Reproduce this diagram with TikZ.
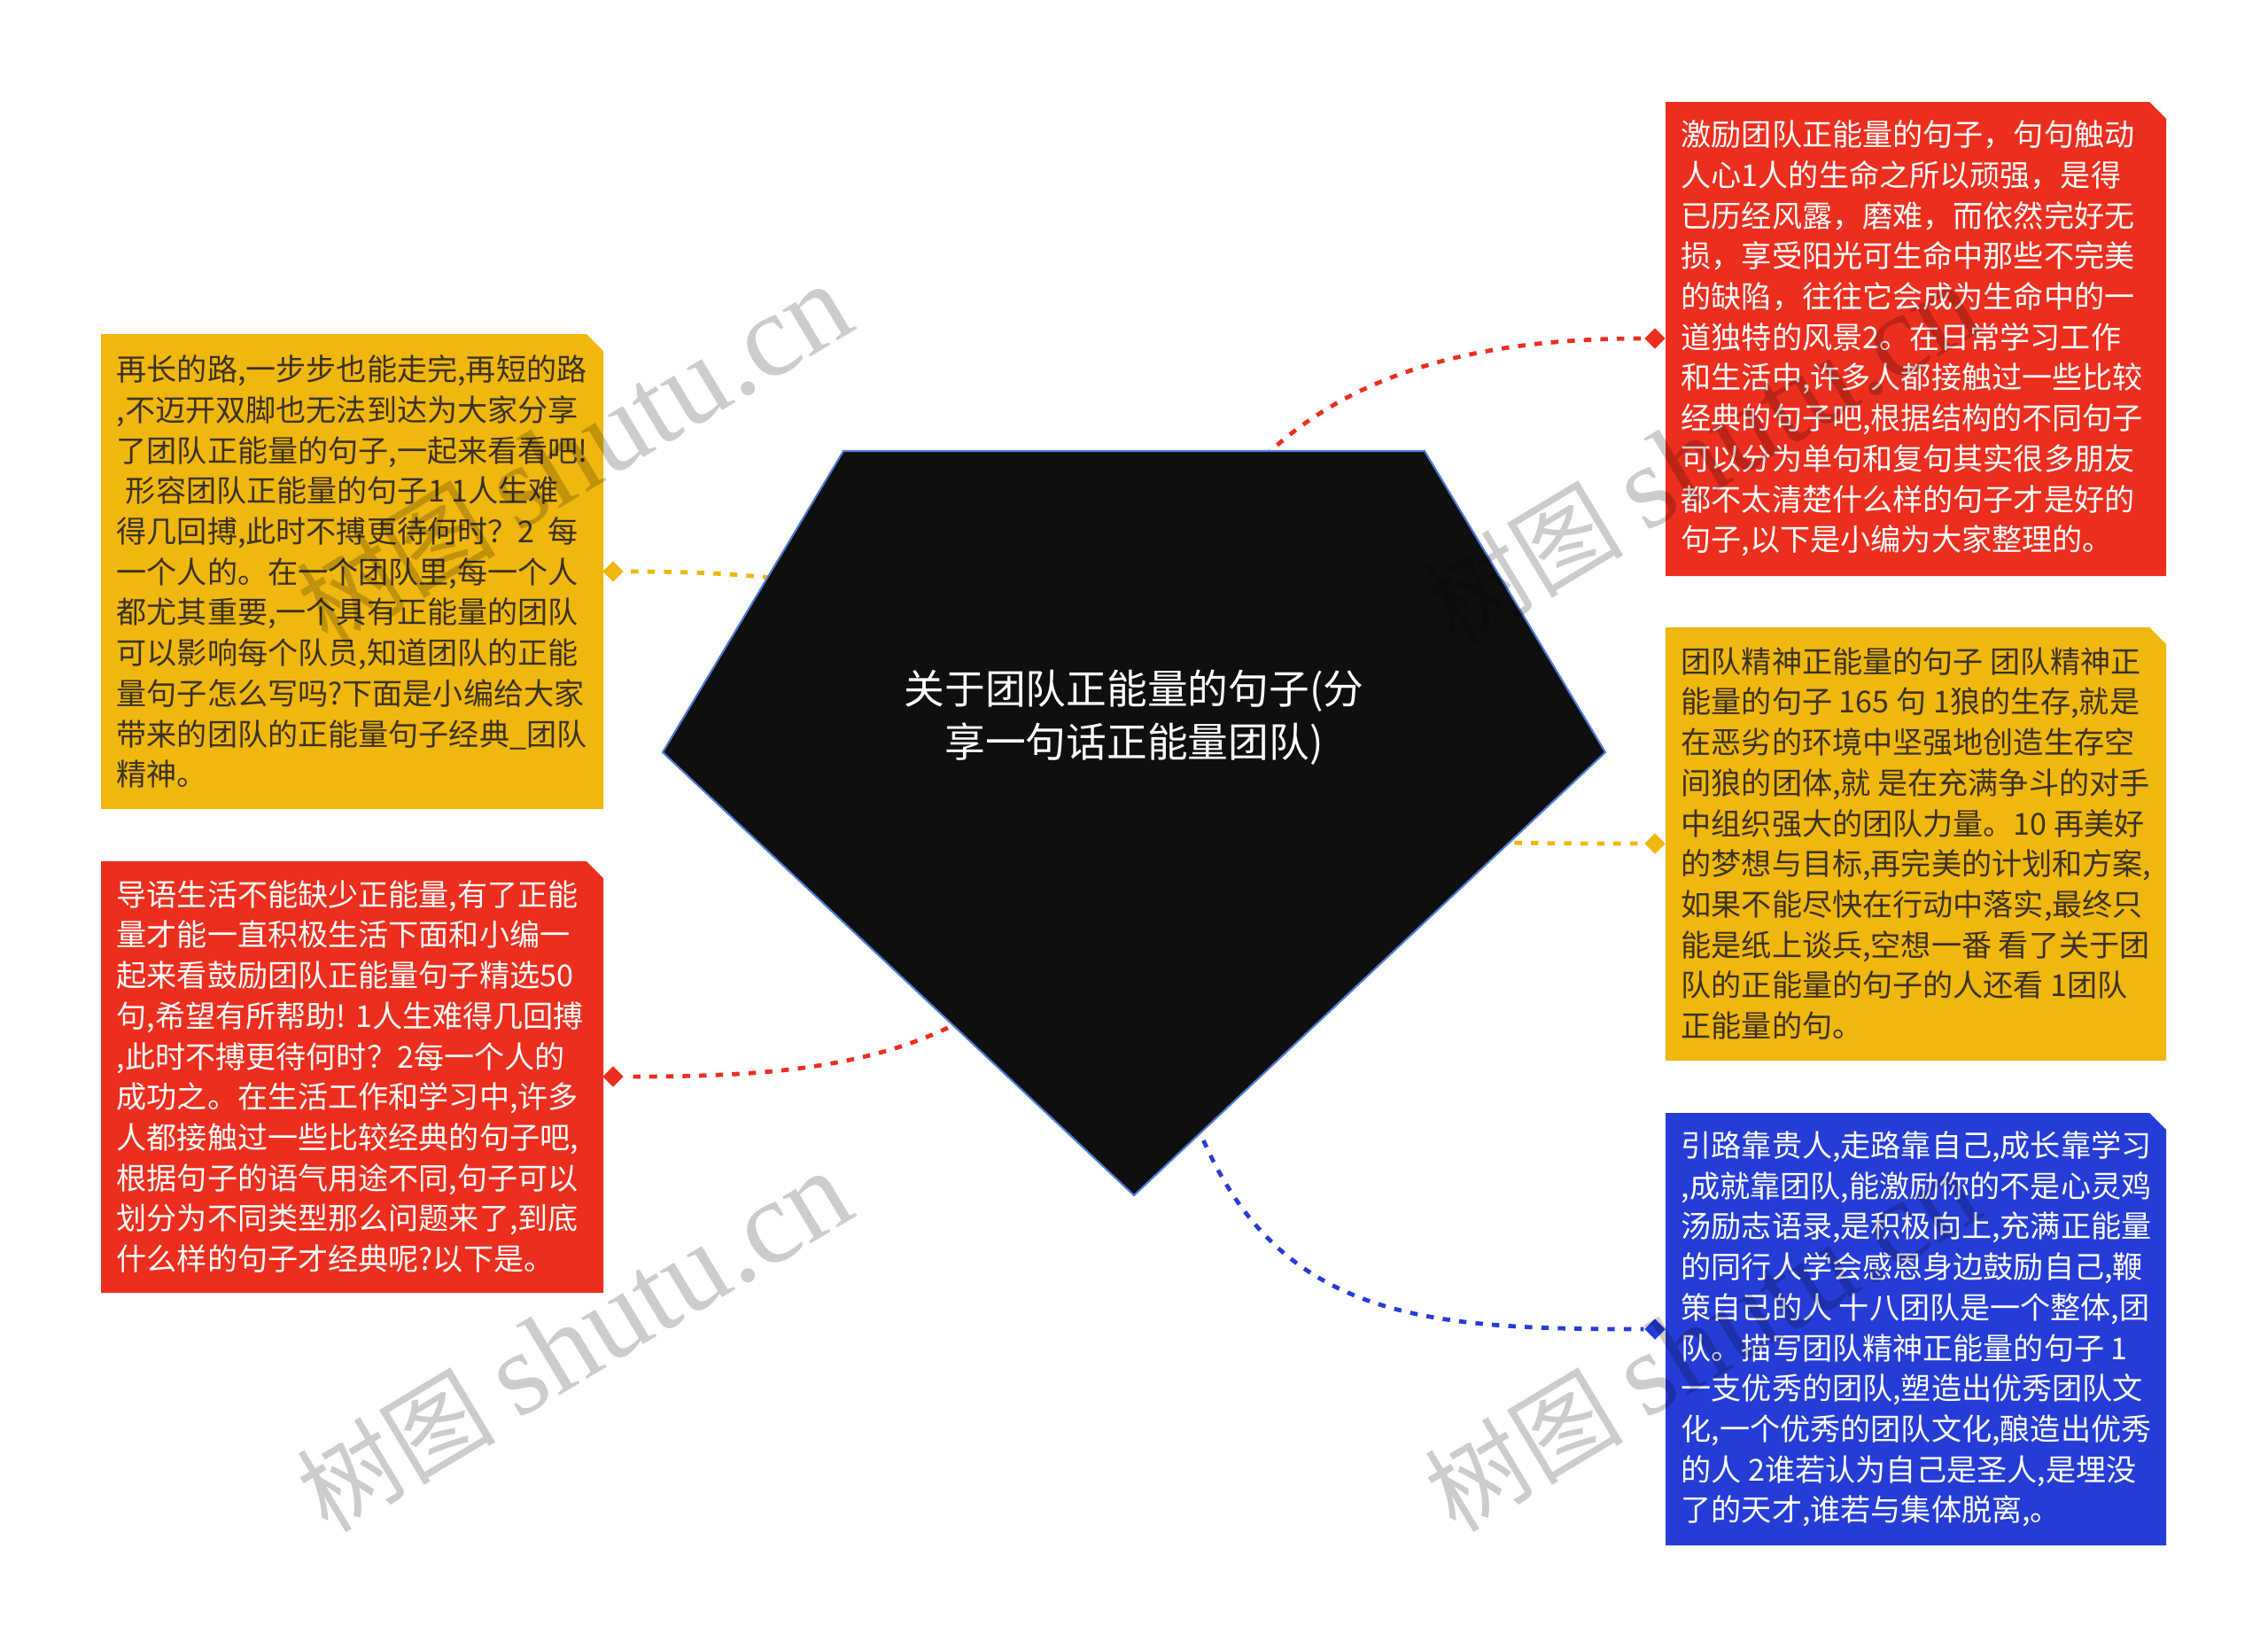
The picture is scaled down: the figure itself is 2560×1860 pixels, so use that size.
\documentclass[tikz,border=0pt]{standalone}
\usepackage{fontspec}
\setmainfont{Noto Sans CJK SC}
\newfontfamily\wmfont{Liberation Serif}
\usetikzlibrary{shapes.geometric}
\definecolor{boxred}{HTML}{EC2E1E}
\definecolor{boxyellow}{HTML}{F0B70F}
\definecolor{boxblue}{HTML}{253DD6}
\definecolor{darktext}{HTML}{3A3222}
\definecolor{rootfill}{HTML}{0F0F0F}
\definecolor{rootedge}{HTML}{4D7DD8}

\begin{document}
\begin{tikzpicture}[x = 0.01cm, y = -0.01cm,
    linkline/.style = {draw = #1, line width = 1.35pt, dash pattern = on 2.4pt off 2.9pt},
    knob/.style = {diamond, fill = #1, inner sep = 0, minimum width = 0.24cm, minimum height = 0.24cm},
    notetext/.style = {anchor = west, align = left, inner sep = 0, text = #1,
        font = \fontsize{9.7pt}{13pt}\selectfont},
    wmtext/.style = {rotate = 31, text = black, text opacity = 0.2, font = \fontsize{32pt}{32pt}\selectfont}]
    \def\cut{19}
    \fill[white] (0, 0) rectangle (2560, 1860);
    \useasboundingbox (0, 0) rectangle (2560, 1860);
    \fill[boxred] (1880, 115) -- (2445 - \cut, 115) -- (2445, 115 + \cut) -- (2445, 650) -- (1880, 650) -- cycle;
    \fill[boxyellow] (1880, 708) -- (2445 - \cut, 708) -- (2445, 708 + \cut) -- (2445, 1197) -- (1880, 1197) -- cycle;
    \fill[boxblue] (1880, 1256) -- (2445 - \cut, 1256) -- (2445, 1256 + \cut) -- (2445, 1744) -- (1880, 1744) -- cycle;
    \fill[boxyellow] (114, 377) -- (681 - \cut, 377) -- (681, 377 + \cut) -- (681, 913) -- (114, 913) -- cycle;
    \fill[boxred] (114, 972) -- (681 - \cut, 972) -- (681, 972 + \cut) -- (681, 1459) -- (114, 1459) -- cycle;
    \node[knob = boxred] (k1) at (1868, 382) {};
    \node[knob = boxyellow] (k2) at (1868, 952) {};
    \node[knob = boxblue] (k3) at (1868, 1500) {};
    \node[knob = boxyellow] (k4) at (692, 645) {};
    \node[knob = boxred] (k5) at (692, 1215) {};
    \coordinate (root) at (1280, 849);
    \draw[linkline = boxred] (root) .. controls (1330, 450) and (1600, 382) .. (k1);
    \draw[linkline = boxyellow] (root) .. controls (1450, 952) and (1600, 952) .. (k2);
    \draw[linkline = boxblue] (root) .. controls (1310, 1480) and (1500, 1500) .. (k3);
    \draw[linkline = boxyellow] (root) .. controls (1100, 660) and (900, 645) .. (k4);
    \draw[linkline = boxred] (root) .. controls (1220, 1200) and (950, 1215) .. (k5);
    \draw[fill = rootfill, draw = rootedge, line width = 0.6pt] (952, 509) -- (1608, 509) -- (1812, 849)
        -- (1280, 1349) -- (748, 849) -- cycle;
    \node[align = center, text = white, font = \fontsize{13pt}{17pt}\selectfont] (title) at (1280, 810)
        {关于团队正能量的句子(分\\享一句话正能量团队)};
    \node[notetext = white] (n1) at (1897, 382) {激励团队正能量的句子，句句触动\\人心1人的生命之所以顽强，是得\\已历经风露，磨难，而依然完好无\\损，享受阳光可生命中那些不完美\\的缺陷，往往它会成为生命中的一\\道独特的风景2。在日常学习工作\\和生活中,许多人都接触过一些比较\\经典的句子吧,根据结构的不同句子\\可以分为单句和复句其实很多朋友\\都不太清楚什么样的句子才是好的\\句子,以下是小编为大家整理的。};
    \node[notetext = darktext] (n2) at (1897, 952) {团队精神正能量的句子 团队精神正\\能量的句子 165 句 1狼的生存,就是\\在恶劣的环境中坚强地创造生存空\\间狼的团体,就 是在充满争斗的对手\\中组织强大的团队力量。10 再美好\\的梦想与目标,再完美的计划和方案,\\如果不能尽快在行动中落实,最终只\\能是纸上谈兵,空想一番 看了关于团\\队的正能量的句子的人还看 1团队\\正能量的句。};
    \node[notetext = white] (n3) at (1897, 1500) {引路靠贵人,走路靠自己,成长靠学习\\,成就靠团队,能激励你的不是心灵鸡\\汤励志语录,是积极向上,充满正能量\\的同行人学会感恩身边鼓励自己,鞭\\策自己的人 十八团队是一个整体,团\\队。描写团队精神正能量的句子 1\\一支优秀的团队,塑造出优秀团队文\\化,一个优秀的团队文化,酿造出优秀\\的人 2谁若认为自己是圣人,是埋没\\了的天才,谁若与集体脱离,。};
    \node[notetext = darktext] (n4) at (131, 645) {再长的路,一步步也能走完,再短的路\\,不迈开双脚也无法到达为大家分享\\了团队正能量的句子,一起来看看吧!\\\hspace{0.3em}形容团队正能量的句子1 1人生难\\得几回搏,此时不搏更待何时？2\ \ 每\\一个人的。在一个团队里,每一个人\\都尤其重要,一个具有正能量的团队\\可以影响每个队员,知道团队的正能\\量句子怎么写吗?下面是小编给大家\\带来的团队的正能量句子经典\_团队\\精神。};
    \node[notetext = white] (n5) at (131, 1215) {导语生活不能缺少正能量,有了正能\\量才能一直积极生活下面和小编一\\起来看鼓励团队正能量句子精选50\\句,希望有所帮助! 1人生难得几回搏\\,此时不搏更待何时？2每一个人的\\成功之。在生活工作和学习中,许多\\人都接触过一些比较经典的句子吧,\\根据句子的语气用途不同,句子可以\\划分为不同类型那么问题来了,到底\\什么样的句子才经典呢?以下是。};
    \node[wmtext] (wm1) at (648, 514) {树图 {\wmfont\fontsize{38pt}{38pt}\selectfont shutu.cn}};
    \node[wmtext] (wm2) at (648, 1515) {树图 {\wmfont\fontsize{38pt}{38pt}\selectfont shutu.cn}};
    \node[wmtext] (wm3) at (1921, 514) {树图 {\wmfont\fontsize{38pt}{38pt}\selectfont shutu.cn}};
    \node[wmtext] (wm4) at (1921, 1515) {树图 {\wmfont\fontsize{38pt}{38pt}\selectfont shutu.cn}};
\end{tikzpicture}
\end{document}
